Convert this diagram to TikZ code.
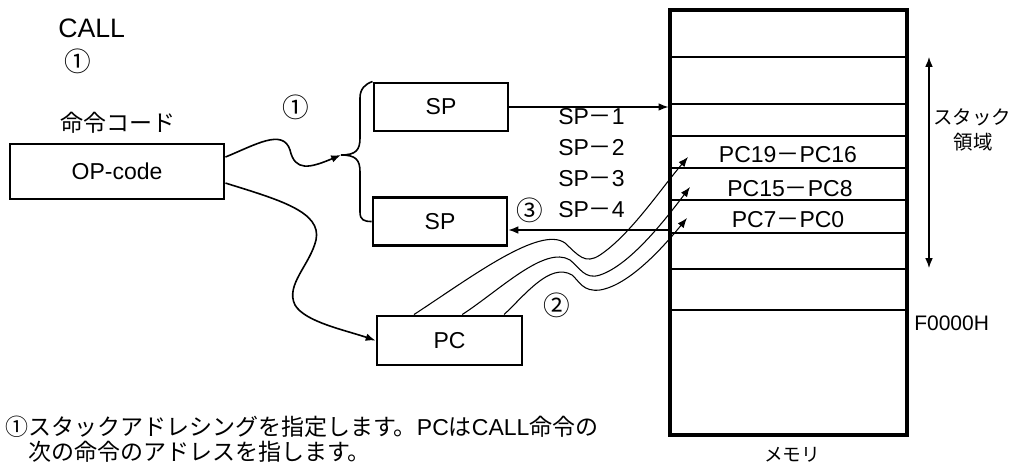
\documentclass[tikz,border=0pt]{standalone}
\usepackage{fontspec}
\setmainfont{Liberation Sans}
\newfontfamily\jp{Noto Sans CJK JP}
\usetikzlibrary{arrows.meta,positioning,calc}

\begin{document}
\begin{tikzpicture}[
  x=0.75pt,y=-0.75pt,
  font=\fontsize{17.25}{20}\selectfont,
  box/.style={draw,line width=2.2pt,minimum width=100.5pt,minimum height=36pt,inner sep=0pt},
  txt/.style={inner sep=0pt},
  jptxt/.style={inner sep=0pt,font=\jp\fontsize{17.25}{20}\selectfont},
  num/.style={inner sep=0pt,font=\jp\fontsize{20}{24}\selectfont},
  wire/.style={line width=1.2pt},
  fine/.style={line width=0.8pt},
  >={Latex[length=2.6mm,width=2mm]}
]
\useasboundingbox (0,0) rectangle (1014,466);
% the instruction
\node[txt,anchor=west,font=\fontsize{20}{24}\selectfont] (call) at (58,28) {CALL};
\node[num] (callno) at (78,61) {①};
\node[jptxt] (oplbl) at (118,123) {命令コード};
\node[box,minimum width=160.5pt,minimum height=41.25pt] (op) at (117,171.5) {OP-code};
\node[num] (step1) at (296,107) {①};
% the registers
\node[box] (spa) at (441,107) {SP};
\node[box] (spb) at (440,221.5) {SP};
\node[box,minimum width=108.75pt,minimum height=36.75pt] (pc) at (449.5,340.5) {PC};
\foreach \n/\y in {1/117,2/148,3/179,4/210}{
  \node[txt,anchor=west] (spm\n) at (558,\y) {SP{\jp －}\n};
}
\node[num] (step3) at (530,210) {③};
\node[num] (step2) at (557,305) {②};
% the memory
\node[draw,line width=2.4pt,minimum width=177.75pt,minimum height=318.75pt,inner sep=0pt] (mem) at (788.5,222.5) {};
\foreach \y in {57,269}
  \draw[line width=0.8pt] (mem.west |- 0,\y) -- (mem.east |- 0,\y);
\foreach \y in {104,168,233}
  \draw[line width=1.2pt] (mem.west |- 0,\y) -- (mem.east |- 0,\y);
\foreach \y in {136,200,310}
  \draw[line width=2pt] (mem.west |- 0,\y) -- (mem.east |- 0,\y);
\node[txt] (hi) at (788,155) {PC19{\jp －}PC16};
\node[txt] (mid) at (790,189) {PC15{\jp －}PC8};
\node[txt] (lo) at (788,220) {PC7{\jp －}PC0};
\node[txt,anchor=west,font=\fontsize{15.75}{18}\selectfont] (base) at (914,323) {F0000H};
\node[jptxt,font=\jp\fontsize{14.6}{17}\selectfont] (stk1) at (972,117) {スタック};
\node[jptxt,font=\jp\fontsize{14.6}{17}\selectfont] (stk2) at (973,142) {領域};
\node[jptxt,font=\jp\fontsize{14}{17}\selectfont] (memlbl) at (792,455) {メモリ};
\coordinate (stktop) at (929,57);
\coordinate (stkbot) at (929,268);
\draw[fine,<->] (stktop) -- (stkbot);
% the note
\node[txt,anchor=west] (note1) at (5,427) {{\jp ①スタックアドレシングを指定します。}PC{\jp は}CALL{\jp 命令の}};
\node[jptxt,anchor=west] (note2) at (28,452) {次の命令のアドレスを指します。};
% the links
\coordinate (fork) at (341,155);
\draw[wire,->] ($(op.north east)!0.25!(op.south east)$)
  .. controls (255,145) and (283,128) .. (290,150)
  .. controls (295,172) and (310,168) .. (fork);
\draw[wire] (fork) .. controls (356,155) and (360,150) .. (360,138) -- (360,98)
  .. controls (360,89) and (365,84) .. (spa.north west);
\draw[wire] (fork) .. controls (356,155) and (360,160) .. (360,172) -- (360,212)
  .. controls (360,220) and (364,221.5) .. (spb.west);
\draw[wire,->] ($(op.north east)!0.7!(op.south east)$)
  .. controls (280,200) and (322,212) .. (316,240)
  .. controls (310,265) and (285,285) .. (295,305)
  .. controls (305,322) and (345,330) .. (pc.west);
\draw[fine,->] (spa.east) -- (spa.east -| mem.west);
\coordinate (ret) at (670,230);
\draw[fine,->] (ret) -- (ret -| spb.east);
\coordinate (r1) at (688,157);
\coordinate (r2) at (690,187);
\coordinate (r3) at (687,218);
\draw[fine,->] ($(pc.north west)!0.26!(pc.north east)$)
  .. controls (470,278) and (540,225) .. (565,243)
  .. controls (578,255) and (585,265) .. (600,255)
  .. controls (630,235) and (660,190) .. (r1);
\draw[fine,->] ($(pc.north west)!0.586!(pc.north east)$)
  .. controls (500,290) and (545,245) .. (570,260)
  .. controls (580,268) and (585,280) .. (600,275)
  .. controls (630,265) and (665,220) .. (r2);
\draw[fine,->] ($(pc.north west)!0.869!(pc.north east)$)
  .. controls (525,295) and (550,262) .. (572,275)
  .. controls (580,282) and (583,292) .. (600,290)
  .. controls (630,285) and (665,245) .. (r3);
\end{tikzpicture}
\end{document}
